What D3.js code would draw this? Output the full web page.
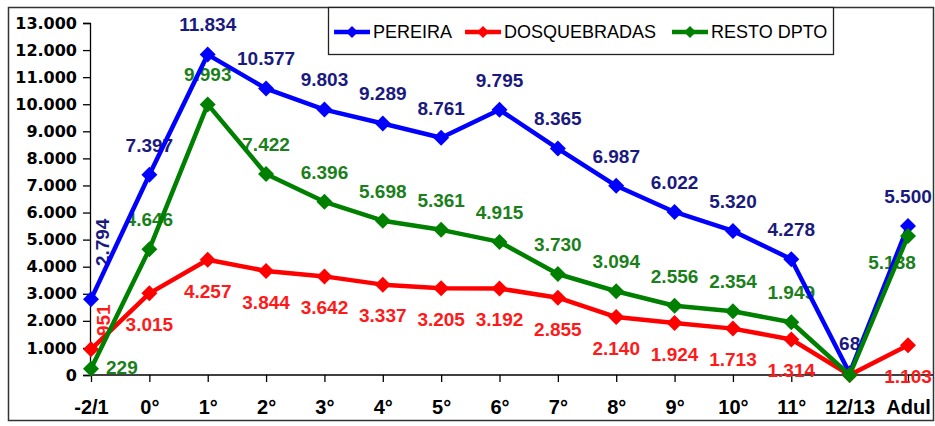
<!DOCTYPE html>
<html>
<head>
<meta charset="utf-8">
<script src="https://cdn.jsdelivr.net/npm/d3@7"></script>
<style>
  body { margin: 0; background: #fff; }
  svg { display: block; }
</style>
</head>
<body>
<div id="chart"></div>
<script>
var width = 935;
var height = 426;

var categories = ["-2/1", "0°", "1°", "2°", "3°", "4°", "5°", "6°", "7°", "8°", "9°", "10°", "11°", "12/13", "Adul"];
var pereira = [2794, 7397, 11834, 10577, 9803, 9289, 8761, 9795, 8365, 6987, 6022, 5320, 4278, 68, 5500];
var dosquebradas = [951, 3015, 4257, 3844, 3642, 3337, 3205, 3192, 2855, 2140, 1924, 1713, 1314, 0, 1103];
var restoDpto = [229, 4646, 9993, 7422, 6396, 5698, 5361, 4915, 3730, 3094, 2556, 2354, 1949, 0, 5138];
var yTicks = [0, 1000, 2000, 3000, 4000, 5000, 6000, 7000, 8000, 9000, 10000, 11000, 12000, 13000];

var series = [
  { name: "PEREIRA", values: pereira, line: "#0000ff", text: "#1a1a7e", dy: -30 },
  { name: "DOSQUEBRADAS", values: dosquebradas, line: "#ff0000", text: "#ff1a1a", dy: 31 },
  { name: "RESTO DPTO", values: restoDpto, line: "#008000", text: "#1b7f1b", dy: -30 }
];

// a few labels were moved by hand in the original
var labelMoves = {
  "PEREIRA|-2/1": { dx: 11, dy: -57, rotate: true },
  "DOSQUEBRADAS|-2/1": { dx: 12, dy: -29, rotate: true },
  "RESTO DPTO|-2/1": { dx: 15, dy: -2, anchor: "start" },
  "RESTO DPTO|Adul": { dx: -16, dy: 26 }
};

var fmt = function (v) { return d3.format(",")(v).replace(/,/g, "."); };

var svg = d3.select("#chart").append("svg")
  .attr("width", width)
  .attr("height", height);

// outer frame
svg.append("rect")
  .attr("x", 8.5).attr("y", 7.5)
  .attr("width", 925).attr("height", 413)
  .attr("fill", "none")
  .attr("stroke", "#333")
  .attr("stroke-width", 1.5);

var x = d3.scalePoint()
  .domain(categories)
  .range([91, 908]);

var y = d3.scaleLinear()
  .domain([0, 13000])
  .range([375, 23]);

// y axis
var yAxis = svg.append("g")
  .attr("transform", "translate(90,0)")
  .call(d3.axisLeft(y).tickValues(yTicks).tickSize(7).tickPadding(6).tickFormat(fmt));
yAxis.select(".domain").attr("stroke", "#000").attr("stroke-width", 1.3);
yAxis.selectAll(".tick line").attr("stroke", "#000").attr("stroke-width", 1.3);
yAxis.selectAll(".tick text")
  .attr("fill", "#000")
  .style("font-family", "'DejaVu Sans', Verdana, sans-serif")
  .style("font-weight", "bold")
  .style("font-size", "16px");

// x axis
var xAxis = svg.append("g")
  .attr("transform", "translate(0,375)")
  .call(d3.axisBottom(x).tickSize(7).tickSizeOuter(0).tickPadding(18));
xAxis.select(".domain").attr("d", "M90,0H933").attr("stroke", "#000").attr("stroke-width", 1.3);
xAxis.selectAll(".tick line").attr("stroke", "#000").attr("stroke-width", 1.3);
xAxis.selectAll(".tick text")
  .attr("fill", "#000")
  .style("font-family", "'Liberation Sans', Arial, sans-serif")
  .style("font-weight", "bold")
  .style("font-size", "20px");

// data labels (drawn under the lines, as in the original)
series.forEach(function (s) {
  var g = svg.append("g");
  s.values.forEach(function (v, i) {
    if (v === 0) return;
    var cat = categories[i];
    var m = labelMoves[s.name + "|" + cat] || { dx: 0, dy: s.dy };
    var px = x(cat) + m.dx;
    var py = y(v) + m.dy;
    g.append("text")
      .attr("transform", "translate(" + px + "," + py + ")" + (m.rotate ? " rotate(-90)" : ""))
      .attr("text-anchor", m.anchor || "middle")
      .attr("dy", "0.36em")
      .attr("fill", s.text)
      .style("font-family", "'Liberation Sans', Arial, sans-serif")
      .style("font-weight", "bold")
      .style("font-size", "19px")
      .text(fmt(v));
  });
});

var line = d3.line()
  .x(function (d, i) { return x(categories[i]); })
  .y(function (d) { return y(d); });

var diamond = "M0,-8L8,0L0,8L-8,0Z";

series.forEach(function (s) {
  svg.append("path")
    .datum(s.values)
    .attr("d", line)
    .attr("fill", "none")
    .attr("stroke", s.line)
    .attr("stroke-width", 4.5)
    .attr("stroke-linejoin", "round");
  svg.append("g")
    .selectAll("path")
    .data(s.values)
    .enter()
    .append("path")
      .attr("d", diamond)
      .attr("transform", function (d, i) { return "translate(" + x(categories[i]) + "," + y(d) + ")"; })
      .attr("fill", s.line);
});

// legend
var legend = svg.append("g");
legend.append("rect")
  .attr("x", 328.5).attr("y", 7.5)
  .attr("width", 505).attr("height", 47)
  .attr("fill", "#fff")
  .attr("stroke", "#222")
  .attr("stroke-width", 1.3);

var legendX = [334, 465, 672];
series.forEach(function (s, i) {
  var lg = legend.append("g").attr("transform", "translate(" + legendX[i] + ",32)");
  lg.append("line")
    .attr("x1", 0).attr("x2", 36)
    .attr("stroke", s.line).attr("stroke-width", 4.5);
  lg.append("path")
    .attr("d", "M0,-6L6,0L0,6L-6,0Z")
    .attr("transform", "translate(18,0)")
    .attr("fill", s.line);
  lg.append("text")
    .attr("x", 39)
    .attr("dy", "0.36em")
    .attr("fill", "#000")
    .style("font-family", "'Liberation Sans', Arial, sans-serif")
    .style("font-size", "18px")
    .text(s.name);
});
</script>
</body>
</html>
